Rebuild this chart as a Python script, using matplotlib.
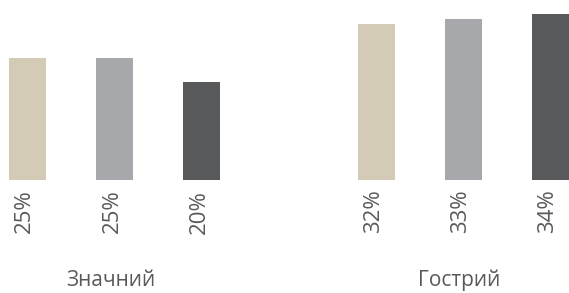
import matplotlib
matplotlib.use("Agg")
import matplotlib.pyplot as plt

plt.rcParams['font.family'] = ['Open Sans', 'DejaVu Sans']

groups = ["Значний", "Гострий"]
values = [[25, 25, 20], [32, 33, 34]]
colors = ["#d3cbb6", "#a7a8ab", "#58595b"]
text_color = "#595959"

fig = plt.figure(figsize=(5.69, 2.93), dpi=100)
ax = fig.add_axes([0, 113 / 293, 1, 180 / 293])

for g, (name, vals) in enumerate(zip(groups, values)):
    base = g * 4
    for i, v in enumerate(vals):
        x = base + i
        ax.bar(x, v, width=0.425, color=colors[i])
        ax.annotate(f"{v}%", (x, 0), xytext=(-2, -7), textcoords="offset points",
                    rotation=90, ha="center", va="top", fontsize=16, color=text_color)
    ax.annotate(name, (base + 1, 0), xytext=(-3, -72), textcoords="offset points",
                ha="center", va="center", fontsize=15, color=text_color)

ax.set_xlim(-0.316, 6.213)
ax.set_ylim(0, 36.9)
ax.axis("off")

fig.savefig("out.png", dpi=100)
